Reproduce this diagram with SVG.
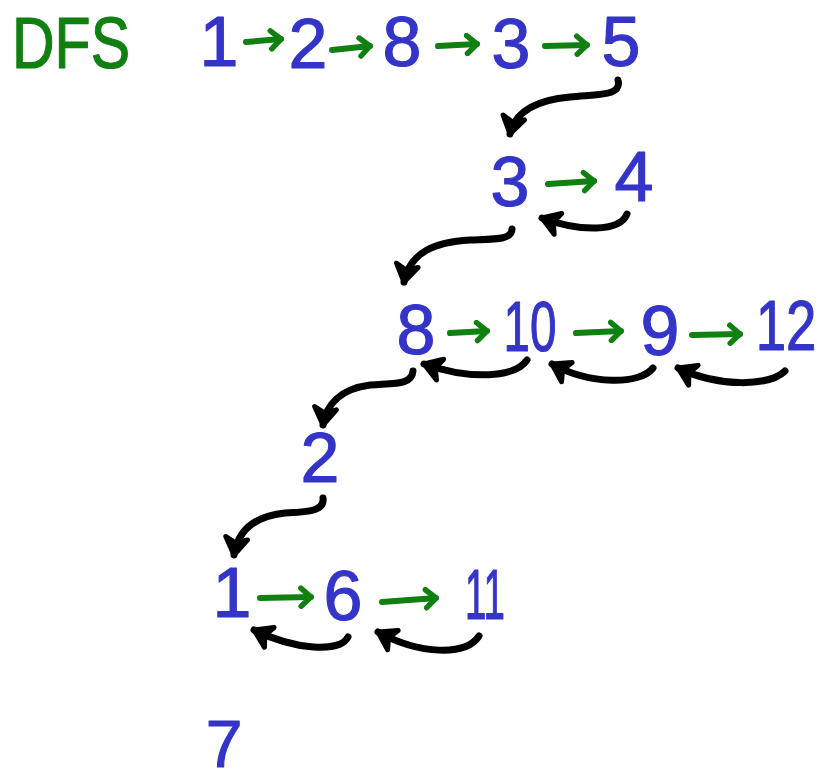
<svg xmlns="http://www.w3.org/2000/svg" width="826" height="782" viewBox="0 0 826 782">
<defs>
<style>
.n{font-family:"Liberation Sans","DejaVu Sans",sans-serif;font-size:70px;fill:#3434c8;stroke:#3434c8;stroke-width:1.2;stroke-linejoin:round;text-anchor:middle}
.t{font-family:"Liberation Sans","DejaVu Sans",sans-serif;font-size:72px;fill:#108010;stroke:#108010;stroke-width:1.2;stroke-linejoin:round}
.g{fill:none;stroke:#108010;stroke-width:6;stroke-linecap:round;marker-end:url(#ga)}
.b{fill:none;stroke:#000;stroke-width:7;stroke-linecap:round;marker-end:url(#ba)}
</style>
<marker id="ga" markerUnits="userSpaceOnUse" viewBox="0 0 24 24" markerWidth="24" markerHeight="24" refX="13" refY="12" orient="auto">
<path d="M3,3 L13,12 L3,21" fill="none" stroke="#108010" stroke-width="5.5" stroke-linecap="round" stroke-linejoin="round"/>
</marker>
<marker id="ba" markerUnits="userSpaceOnUse" viewBox="0 0 32 32" markerWidth="32" markerHeight="32" refX="22" refY="16" orient="auto">
<path d="M5,5 L22,16 L5,27 L10,16 Z" fill="#000" stroke="#000" stroke-width="5" stroke-linejoin="round"/>
</marker>
</defs>
<rect width="826" height="782" fill="#fff"/>
<text class="t" x="12" y="68" textLength="118" lengthAdjust="spacingAndGlyphs">DFS</text>
<g id="r1n1"><text class="n" x="219" y="66">1</text></g>
<g id="r1n2"><text class="n" x="308" y="68">2</text></g>
<g id="r1n8"><text class="n" x="402" y="66">8</text></g>
<g id="r1n3"><text class="n" x="511" y="68">3</text></g>
<g id="r1n5"><text class="n" x="621" y="66">5</text></g>
<g id="r2n3"><text class="n" x="510" y="206">3</text></g>
<g id="r2n4"><text class="n" x="634" y="201">4</text></g>
<g id="r3n8"><text class="n" x="416" y="354">8</text></g>
<g id="r3n10"><text class="n" transform="translate(530,351) scale(0.68,1)">10</text></g>
<g id="r3n9"><text class="n" x="660" y="355">9</text></g>
<g id="r3n12"><text class="n" transform="translate(786,350) scale(0.78,1)">12</text></g>
<g id="r4n2"><text class="n" x="320" y="482">2</text></g>
<g id="r5n1"><text class="n" x="232" y="617">1</text></g>
<g id="r5n6"><text class="n" x="343" y="620">6</text></g>
<g id="r5n11"><text class="n" transform="translate(485,619) scale(0.55,1)">11</text></g>
<g id="r6n7"><text class="n" x="224" y="767" style="font-size:66px">7</text></g>
<g id="connectors">
<path class="g" d="M246,42 L281,39"/>
<path class="g" d="M332,50 L370,46"/>
<path class="g" d="M438,46 L477,44"/>
<path class="g" d="M545,46 L587,45"/>
<path class="g" d="M548,184 L594,181"/>
<path class="g" d="M450,333 L487,331"/>
<path class="g" d="M576,333 L621,331"/>
<path class="g" d="M692,335 L740,334"/>
<path class="g" d="M260,598 L311,597"/>
<path class="g" d="M382,602 L436,598"/>
<path class="b" d="M618,80 C622,96 600,94 570,97 C535,100 515,112 510,134"/>
<path class="b" d="M627,214 C620,232 580,232 542,218"/>
<path class="b" d="M512,229 C512,240 495,239 470,240 C435,242 410,252 404,282"/>
<path class="b" d="M527,360 C515,378 470,380 424,364"/>
<path class="b" d="M653,368 C640,385 590,385 552,364"/>
<path class="b" d="M785,371 C770,386 720,388 678,368"/>
<path class="b" d="M413,371 C412,385 395,383 370,385 C340,389 326,405 323,425"/>
<path class="b" d="M323,498 C325,512 305,512 285,513 C255,516 238,530 234,555"/>
<path class="b" d="M348,637 C340,653 295,650 254,630"/>
<path class="b" d="M479,636 C466,656 420,655 378,632"/>
</g>
</svg>
